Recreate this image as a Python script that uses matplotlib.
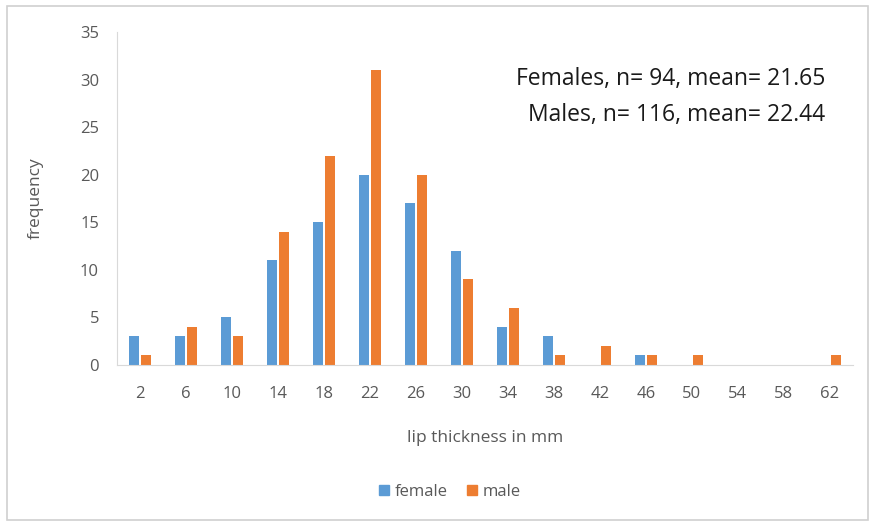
import matplotlib
matplotlib.use("Agg")
import matplotlib.pyplot as plt
from matplotlib.patches import Rectangle, Patch
import numpy as np

categories = ["2", "6", "10", "14", "18", "22", "26", "30", "34", "38",
              "42", "46", "50", "54", "58", "62"]
female = [3, 3, 5, 11, 15, 20, 17, 12, 4, 3, 0, 1, 0, 0, 0, 0]
male = [1, 4, 3, 14, 22, 31, 20, 9, 6, 1, 2, 1, 1, 0, 0, 1]
yticks = [0, 5, 10, 15, 20, 25, 30, 35]

BLUE = "#5B9BD5"
ORANGE = "#ED7D31"
GREY = "#595959"

plt.rcParams["font.family"] = ["Open Sans", "DejaVu Sans"]

fig = plt.figure(figsize=(8.7, 5.24), dpi=100)
fig.patches.append(Rectangle((7 / 870, 4 / 524), 861 / 870, 514 / 524,
                             transform=fig.transFigure, fill=False,
                             edgecolor="#d0d0d0", linewidth=1.2))

ax = fig.add_axes([117 / 870, 1 - 365 / 524, (853 - 117) / 870, (365 - 32) / 524])
x = np.arange(len(categories))
w = 0.22
ax.bar(x - 0.13, female, width=w, color=BLUE, label="female")
ax.bar(x + 0.13, male, width=w, color=ORANGE, label="male")

ax.set_xlim(-0.5, len(categories) - 0.5)
ax.set_ylim(0, 35)
ax.set_yticks(yticks)
ax.set_xticks(x)
ax.set_xticklabels(categories)
ax.tick_params(axis="both", length=0, labelsize=12, colors=GREY)
ax.tick_params(axis="x", pad=15)
ax.tick_params(axis="y", pad=13)

for s in ["top", "right"]:
    ax.spines[s].set_visible(False)
ax.spines["left"].set_color("#d9d9d9")
ax.spines["bottom"].set_color("#d9d9d9")

ax.set_xlabel("lip thickness in mm", fontsize=12.5, color=GREY, labelpad=20)
ax.set_ylabel("frequency", fontsize=12.5, color=GREY, labelpad=26)

ax.text(0.962, 0.858, "Females, n= 94, mean= 21.65", transform=ax.transAxes,
        ha="right", va="center", fontsize=16.5, color="#1a1a1a")
ax.text(0.962, 0.750, "Males, n= 116, mean= 22.44", transform=ax.transAxes,
        ha="right", va="center", fontsize=16.5, color="#1a1a1a")

handles = [Patch(color=BLUE, label="female"), Patch(color=ORANGE, label="male")]
fig.legend(handles=handles, loc="center", bbox_to_anchor=(450 / 870, 1 - 492 / 524),
           ncol=2, frameon=False, fontsize=12, labelcolor=GREY,
           handlelength=0.6, handleheight=0.6, handletextpad=0.3, columnspacing=1.2)

fig.savefig("out.png", dpi=100, facecolor="white")
